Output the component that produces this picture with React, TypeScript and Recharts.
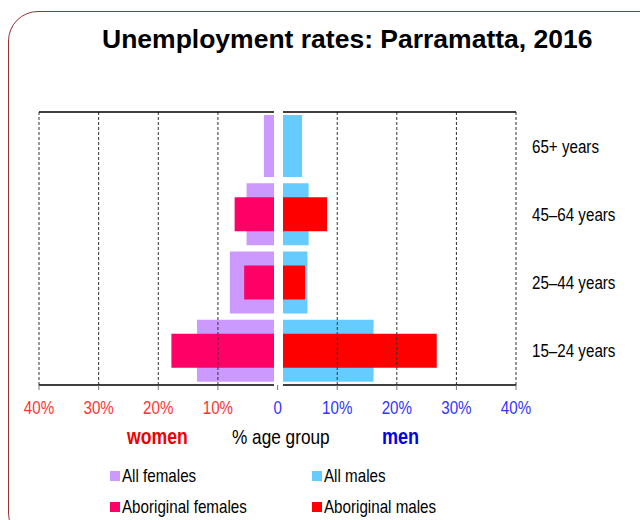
import { Bar, ComposedChart, ReferenceLine, XAxis, YAxis } from "recharts";

const ageGroups = ["65+ years", "45–64 years", "25–44 years", "15–24 years"];
const allFemales = [2.3, 5.2, 8.0, 13.5];
const allMales = [4.1, 5.2, 5.0, 16.1];
const aboriginalFemales = [0, 7.2, 5.6, 17.8];
const aboriginalMales = [0, 8.3, 4.6, 26.7];
const womenTicks = [10, 20, 30, 40];
const menTicks = [0, 10, 20, 30, 40];
const gridTicks = [10, 20, 30, 40];

const data = ageGroups.map((age, i) => ({
  age,
  allF: allFemales[i],
  allM: allMales[i],
  abF: aboriginalFemales[i] || null,
  abM: aboriginalMales[i] || null,
}));

const legend = [
  { label: "All females", color: "#CC99FF" },
  { label: "All males", color: "#66CCFF" },
  { label: "Aboriginal females", color: "#FF0066" },
  { label: "Aboriginal males", color: "#FF0000" },
];

const SANS = '"Liberation Sans", Arial, sans-serif';
// the source uses a condensed face; squeeze regular Arial-metric text to match
const SQUEEZE = 0.82;

function NarrowTick(props: any) {
  const { x, y, payload, anchor, fill, dy, fmt } = props;
  return (
    <g transform={`translate(${x},${y})`}>
      <text
        transform={`scale(${SQUEEZE},1)`}
        textAnchor={anchor}
        dy={dy}
        fill={fill}
        fontFamily={SANS}
        fontSize={18.5}
      >
        {fmt ? fmt(payload.value) : payload.value}
      </text>
    </g>
  );
}

const pct = (v: number) => (v === 0 ? "0" : `${v}%`);

function Panel({ side }: { side: "women" | "men" }) {
  const women = side === "women";
  const domain = women ? [0.6, 40] : [0.9, 40];
  const colorText = women ? "#FF3333" : "#3333FF";
  return (
    <ComposedChart
      width={women ? 290 : 370}
      height={330}
      data={data}
      layout="vertical"
      margin={women ? { top: 11, right: 16, bottom: 0, left: 39 } : { top: 11, right: 0, bottom: 0, left: 13 }}
    >
      <XAxis
        type="number"
        domain={domain}
        allowDataOverflow
        reversed={women}
        ticks={women ? womenTicks : menTicks}
        interval={0}
        height={45}
        axisLine={{ stroke: "#000", strokeWidth: 1.5 }}
        tickLine={{ stroke: "#777" }}
        tickSize={5}
        tickMargin={11}
        tick={(p: any) => <NarrowTick {...p} anchor="middle" dy="0.71em" fill={colorText} fmt={pct} />}
      />
      <XAxis
        xAxisId="top"
        orientation="top"
        type="number"
        domain={domain}
        allowDataOverflow
        reversed={women}
        height={1}
        tick={false}
        tickLine={false}
        axisLine={{ stroke: "#000", strokeWidth: 1.5 }}
      />
      <YAxis
        yAxisId="all"
        type="category"
        dataKey="age"
        orientation="right"
        hide={women}
        width={124}
        axisLine={false}
        tickLine={false}
        tickSize={6}
        tickMargin={10}
        tick={(p: any) => <NarrowTick {...p} anchor="start" dy="0.355em" fill="#000" />}
      />
      <YAxis yAxisId="abo" type="category" dataKey="age" hide />
      {gridTicks.map((t) => (
        <ReferenceLine
          key={t}
          x={t}
          yAxisId="all"
          stroke="#333"
          strokeDasharray="3 2"
          ifOverflow="visible"
        />
      ))}
      <Bar
        yAxisId="all"
        dataKey={women ? "allF" : "allM"}
        fill={women ? "#CC99FF" : "#66CCFF"}
        barSize={62}
        isAnimationActive={false}
      />
      <Bar
        yAxisId="abo"
        dataKey={women ? "abF" : "abM"}
        fill={women ? "#FF0066" : "#FF0000"}
        barSize={34}
        isAnimationActive={false}
      />
    </ComposedChart>
  );
}

function Narrow({ left, top, size, bold, color, children }: any) {
  return (
    <span
      style={{
        position: "absolute",
        left,
        top,
        fontSize: size,
        fontWeight: bold ? "bold" : "normal",
        color,
        whiteSpace: "nowrap",
        transform: `scaleX(${SQUEEZE})`,
        transformOrigin: "left center",
        lineHeight: "24px",
      }}
    >
      {children}
    </span>
  );
}

export default function App() {
  return (
    <div
      style={{
        position: "absolute",
        left: 0,
        top: 0,
        width: 640,
        height: 520,
        overflow: "hidden",
        background: "#fff",
        fontFamily: SANS,
      }}
    >
      <div
        style={{
          position: "absolute",
          left: 8,
          top: 11,
          width: 660,
          height: 530,
          border: "1.5px solid #9B3030",
          borderRadius: 30,
        }}
      />
      <div
        style={{
          position: "absolute",
          left: 102,
          top: 24,
          fontWeight: "bold",
          fontSize: 26.5,
          color: "#000",
          whiteSpace: "nowrap",
        }}
      >
        Unemployment rates: Parramatta, 2016
      </div>
      <div style={{ position: "absolute", left: 0, top: 100 }}>
        <Panel side="women" />
      </div>
      <div style={{ position: "absolute", left: 270, top: 100 }}>
        <Panel side="men" />
      </div>
      <Narrow left={127} top={425} size={21.5} bold color="#EE0000">women</Narrow>
      <Narrow left={232} top={425} size={21} color="#000">% age group</Narrow>
      <Narrow left={382} top={425} size={22} bold color="#0000EE">men</Narrow>
      {legend.map((item, i) => (
        <div key={item.label}>
          <span
            style={{
              position: "absolute",
              left: i % 2 === 0 ? 110 : 312,
              top: i < 2 ? 471 : 502,
              width: 10,
              height: 10,
              background: item.color,
            }}
          />
          <Narrow left={i % 2 === 0 ? 122 : 324} top={i < 2 ? 464 : 495} size={18.5} color="#000">
            {item.label}
          </Narrow>
        </div>
      ))}
    </div>
  );
}
